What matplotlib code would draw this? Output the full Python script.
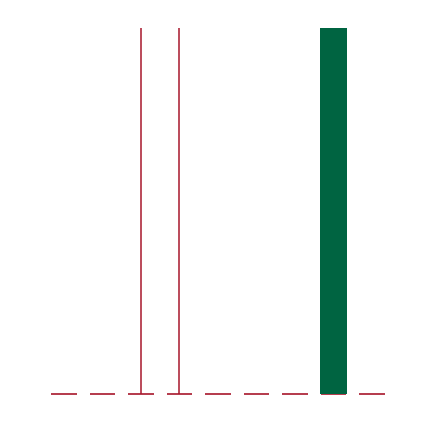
import numpy as np
import matplotlib.pyplot as plt

# categorias y valores
categories = np.arange(9)
stem_cats = [2, 3]
stem_vals = [1.0, 1.0]
bar_cats = [7]
bar_vals = [1.0]
baseline = np.zeros(len(categories))

red = '#a8182c'
green = '#006441'

fig = plt.figure(figsize=(4.34, 4.22), dpi=100)
ax = fig.add_axes([0, 0, 1, 1])

# linea base discontinua (un segmento por categoria)
ax.hlines(baseline, categories - 0.33, categories + 0.33, color=red, lw=1.2, zorder=1)

# lineas verticales
ax.vlines(stem_cats, 0, stem_vals, color=red, lw=1.1, zorder=2)

# barra
ax.bar(bar_cats, bar_vals, width=0.68, color=green, zorder=3)

ax.set_xlim(-1.662, 9.61)
ax.set_ylim(-0.0765, 1.0765)
ax.axis('off')

fig.savefig('out.png', dpi=100)
